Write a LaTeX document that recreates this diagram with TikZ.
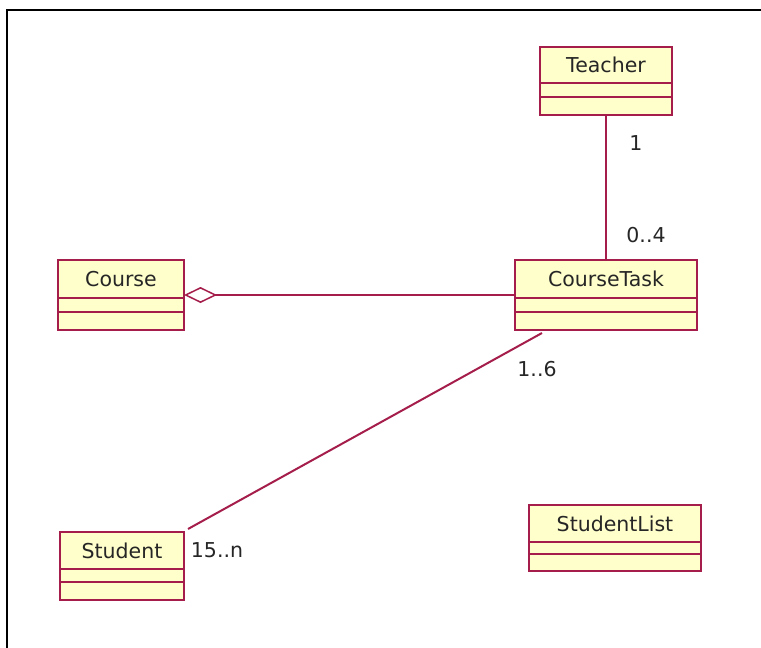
\documentclass[tikz,border=0pt]{standalone}
\usepackage{fontspec}
\setmainfont{DejaVu Sans}
\usetikzlibrary{arrows.meta,calc}
\definecolor{umlred}{RGB}{165,30,75}
\definecolor{umlfill}{RGB}{255,255,204}
\tikzset{
  classbox/.style={draw=umlred, fill=umlfill, line width=2pt, anchor=north west, inner sep=0pt, outer sep=0pt},
  divider/.style={draw=umlred, line width=2pt},
  cname/.style={font=\fontsize{20.5}{24}\selectfont, text=black!85, inner sep=0pt},
  mult/.style={font=\fontsize{20.5}{24}\selectfont, text=black!85, inner sep=0pt},
  assoc/.style={draw=umlred, line width=2pt},
}
\newcommand\umlclass[8]{% name, left, top, right, bottom, div1, div2, text
  \node[classbox, minimum width=#4-#2, minimum height=#5-#3] (#1) at (#2,#3) {};
  \draw[divider] (#2,#6) -- (#4,#6);
  \draw[divider] (#2,#7) -- (#4,#7);
  \node[cname] (#1-label) at ({(#2+#4)/2},{(#3+#6)/2}) {#8};
}
\begin{document}
\begin{tikzpicture}[x=1pt,y=-1pt]
\useasboundingbox (0,0) rectangle (761,648);
\draw[black, line width=2pt] (7,650) -- (7,10) -- (763,10);

\umlclass{teacher}{540}{47}{672}{115}{83}{97}{Teacher}
\umlclass{course}{58}{260}{184}{330}{298}{312}{Course}
\umlclass{coursetask}{515}{260}{697}{330}{298}{312}{CourseTask}
\umlclass{student}{60}{532}{184}{600}{569}{582}{Student}
\umlclass{studentlist}{529}{505}{701}{571}{542}{554}{StudentList}

\draw[assoc] (teacher) -- (coursetask);
\draw[assoc, {Diamond[open, length=33pt, width=16pt, line width=1.5pt, fill=white]}-] (course.east) -- (coursetask.west);
\coordinate (ctfoot) at (542,333);
\coordinate (stend) at (188,529);
\draw[assoc] (ctfoot) -- (stend);

\node[mult, anchor=center] (m1) at (636,143) {1};
\node[mult, anchor=center] (m2) at (646,235) {0..4};
\node[mult, anchor=center] (m3) at (537,369) {1..6};
\node[mult, anchor=center] (m4) at (217,550) {15..n};
\end{tikzpicture}
\end{document}
